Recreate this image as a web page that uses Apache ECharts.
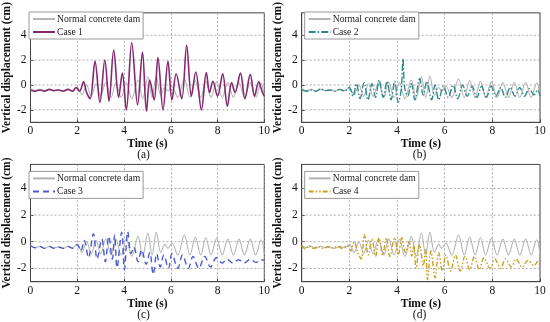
<!DOCTYPE html>
<html>
<head>
<meta charset="utf-8">
<script src="https://cdn.jsdelivr.net/npm/echarts@6/dist/echarts.min.js"></script>
<style>html,body{margin:0;padding:0;background:#fff}#c{width:550px;height:322px}</style>
</head>
<body>
<div id="c"></div>
<script>
// ---- data (time s, vertical displacement cm) ----
var normalDam = [[0,-0.3],[0.2,-0.45],[0.4,-0.35],[0.6,-0.5],[0.8,-0.35],[1.0,-0.45],[1.2,-0.4],[1.4,-0.5],[1.6,-0.35],[1.8,-0.45],[2.0,-0.2],[2.2,-0.8],[2.4,0.0],[2.6,-0.9],[2.8,0.1],[3.0,-0.9],[3.22,0.2],[3.45,-1.0],[3.65,0.2],[3.88,-1.0],[4.1,0.2],[4.33,-1.1],[4.6,0.4],[4.8,-1.1],[5.02,0.65],[5.2,-1.0],[5.38,0.72],[5.57,-0.8],[5.75,-0.2],[5.88,-0.5],[6.05,-0.1],[6.3,-1.0],[6.58,0.5],[6.82,-1.0],[7.05,0.35],[7.28,-1.0],[7.5,0.3],[7.72,-1.0],[7.96,0.25],[8.2,-1.0],[8.44,0.2],[8.68,-1.0],[8.92,0.2],[9.15,-1.0],[9.4,0.2],[9.63,-1.0],[9.86,0.15],[10,-0.9]];
var case1 = [[0,-0.4],[0.2,-0.5],[0.4,-0.4],[0.6,-0.5],[0.8,-0.35],[1.0,-0.45],[1.2,-0.4],[1.4,-0.5],[1.6,-0.35],[1.8,-0.5],[1.95,-0.2],[2.1,-0.5],[2.27,0.25],[2.4,-0.6],[2.55,-1.1],[2.76,1.9],[2.97,-1.4],[3.18,2.0],[3.36,-1.3],[3.56,2.8],[3.77,-1.0],[3.93,0.95],[4.1,-2.0],[4.33,3.4],[4.58,-1.6],[4.79,2.65],[4.96,-2.1],[5.1,0.4],[5.29,-1.2],[5.45,2.2],[5.67,-2.0],[5.88,1.9],[6.05,-1.2],[6.23,0.9],[6.47,-1.1],[6.68,3.2],[6.88,-0.9],[7.07,1.05],[7.31,-2.0],[7.52,1.0],[7.66,-0.6],[7.8,0.3],[8.0,-0.9],[8.22,0.9],[8.42,-1.7],[8.6,0.2],[8.75,-0.6],[8.98,0.95],[9.17,-1.1],[9.4,0.85],[9.58,-0.9],[9.76,0.25],[9.9,-0.5],[10,-0.9]];
var case2 = [[0,-0.4],[0.2,-0.5],[0.4,-0.4],[0.6,-0.5],[0.8,-0.3],[1.0,-0.45],[1.2,-0.4],[1.4,-0.5],[1.6,-0.35],[1.8,-0.5],[2.0,-0.2],[2.15,-0.9],[2.3,0.1],[2.45,-1.1],[2.62,0.2],[2.78,-1.2],[2.95,0.1],[3.1,-1.0],[3.25,0.4],[3.42,-1.0],[3.58,0.3],[3.75,-1.2],[3.9,0.3],[4.05,-1.4],[4.18,-0.3],[4.25,2.1],[4.32,-0.2],[4.45,-0.9],[4.6,0.1],[4.75,-1.2],[4.95,0.5],[5.1,-0.8],[5.25,0.3],[5.45,-1.2],[5.6,0.0],[5.75,-1.2],[5.95,-0.1],[6.15,-1.0],[6.35,0.0],[6.55,-1.1],[6.75,0.0],[6.95,-0.9],[7.15,-0.1],[7.35,-1.0],[7.55,-0.1],[7.75,-1.0],[7.95,-0.1],[8.15,-0.9],[8.35,-0.2],[8.55,-1.0],[8.75,-0.2],[8.95,-0.9],[9.15,-0.2],[9.35,-0.9],[9.55,-0.3],[9.75,-0.8],[9.9,-0.4],[10,-0.9]];
var case3 = [[0,-0.3],[0.2,-0.45],[0.4,-0.35],[0.6,-0.5],[0.8,-0.35],[1.0,-0.5],[1.2,-0.4],[1.4,-0.5],[1.6,-0.35],[1.8,-0.5],[2.0,-0.2],[2.15,-0.7],[2.3,0.1],[2.48,-1.2],[2.69,0.6],[2.85,-1.3],[3.05,0.2],[3.2,-1.5],[3.35,0.4],[3.5,-1.3],[3.6,0.5],[3.7,-1.95],[3.9,0.7],[4.02,-2.1],[4.16,0.75],[4.3,-0.9],[4.42,-0.4],[4.6,-1.5],[4.75,-0.6],[4.95,-1.7],[5.1,-0.8],[5.25,-2.45],[5.4,-0.9],[5.55,-1.9],[5.7,-1.0],[5.9,-2.0],[6.05,-0.9],[6.3,-2.0],[6.5,-1.0],[6.75,-2.0],[6.95,-1.1],[7.2,-2.0],[7.45,-1.1],[7.7,-1.9],[7.95,-1.2],[8.2,-1.6],[8.4,-1.3],[8.65,-1.6],[8.9,-1.35],[9.15,-1.6],[9.4,-1.3],[9.65,-1.55],[9.85,-1.35],[10,-1.4]];
var case4 = [[0,-0.3],[0.15,-0.55],[0.3,-0.3],[0.5,-0.5],[0.7,-0.35],[0.9,-0.5],[1.1,-0.35],[1.3,-0.5],[1.5,-0.35],[1.7,-0.5],[1.9,-0.3],[2.05,-0.7],[2.2,0.0],[2.35,-0.8],[2.5,-1.3],[2.63,0.55],[2.8,-1.0],[2.95,0.2],[3.1,-1.1],[3.25,0.3],[3.4,-1.0],[3.55,0.3],[3.7,-1.1],[3.9,0.3],[4.05,-1.0],[4.2,0.3],[4.35,-0.8],[4.5,0.0],[4.62,-1.1],[4.7,-0.3],[4.8,-2.0],[4.95,-0.2],[5.1,-1.8],[5.2,-0.6],[5.28,-2.85],[5.42,-0.7],[5.6,-2.7],[5.75,-0.8],[5.9,-2.2],[6.05,-1.0],[6.25,-2.2],[6.45,-1.0],[6.65,-2.2],[6.85,-1.1],[7.05,-2.1],[7.25,-1.1],[7.45,-2.1],[7.65,-1.2],[7.9,-2.0],[8.1,-1.3],[8.35,-2.0],[8.55,-1.3],[8.8,-1.9],[9.0,-1.3],[9.25,-1.9],[9.5,-1.4],[9.75,-1.8],[9.9,-1.5],[10,-1.8]];
var yTicks = [-2, 0, 2, 4];
var xRange = [0, 10];
var caseNames = ['Case 1', 'Case 2', 'Case 3', 'Case 4'];
var panelLabels = ['(a)', '(b)', '(c)', '(d)'];
var caseData = [case1, case2, case3, case4];

// ---- styling / layout ----
var FONT = '"Liberation Serif", "Times New Roman", Times, serif';
var caseColors = ['#84296f', '#2f8a8e', '#4a5ad6', '#c9a020'];
var caseDash = [[], [7, 2, 1.5, 2], [6, 4], [5, 2, 1.5, 2, 1.5, 2]];
var caseWidth = [1.6, 1.4, 1.4, 1.4];
var GRIDLINE = {color: '#999', type: [2, 2], width: 0.8};
var panels = [
  {left: 26, top: 5},
  {left: 301.7, top: 5},
  {left: 26, top: 164.4},
  {left: 301.7, top: 164.4}
];
var PW = 238.3, PH = 117.3;

var grids = [], xAxes = [], yAxes = [], series = [], legends = [], graphics = [];
panels.forEach(function (p, i) {
  grids.push({left: p.left, top: p.top, width: PW, height: PH, show: true,
    borderColor: '#444', borderWidth: 1, backgroundColor: '#fff'});
  xAxes.push({type: 'value', gridIndex: i, min: 0, max: 10, interval: 2,
    name: 'Time (s)', nameLocation: 'middle', nameGap: 13,
    nameTextStyle: {fontFamily: FONT, fontWeight: 'bold', fontSize: 11.5, color: '#111'},
    axisLine: {onZero: false, lineStyle: {color: '#444'}},
    axisTick: {inside: true, length: 3, lineStyle: {color: '#444'}},
    axisLabel: {fontFamily: FONT, fontSize: 11.5, color: '#111', margin: 3},
    splitLine: {show: true, lineStyle: GRIDLINE}
  });
  yAxes.push({type: 'value', gridIndex: i, min: -3, max: 5.8,
    name: 'Vertical displacement (cm)', nameLocation: 'middle', nameGap: 12.5,
    nameTextStyle: {fontFamily: FONT, fontWeight: 'bold', fontSize: 11.5, color: '#111'},
    axisLine: {lineStyle: {color: '#444'}},
    axisTick: {inside: true, length: 3, customValues: yTicks, lineStyle: {color: '#444'}},
    axisLabel: {fontFamily: FONT, fontSize: 11.5, color: '#111', margin: 4, customValues: yTicks},
    splitLine: {show: false}
  });
  // horizontal dashed grid lines at the y tick values
  yTicks.forEach(function (v) {
    series.push({type: 'line', xAxisIndex: i, yAxisIndex: i, silent: true,
      data: xRange.map(function (x) { return [x, v]; }), symbol: 'none', z: 1,
      lineStyle: GRIDLINE, tooltip: {show: false}});
  });
  series.push({name: 'Normal concrete dam', type: 'line', xAxisIndex: i, yAxisIndex: i,
    data: normalDam, smooth: 0.35, symbol: 'none', z: 3,
    lineStyle: {color: '#b4b4b4', width: 1.1},
    itemStyle: {color: '#b4b4b4'}
  });
  series.push({name: caseNames[i], type: 'line', xAxisIndex: i, yAxisIndex: i,
    data: caseData[i], smooth: 0.35, symbol: 'none', z: 4,
    lineStyle: {color: caseColors[i], width: caseWidth[i], type: caseDash[i].length ? caseDash[i] : 'solid'},
    itemStyle: {color: caseColors[i]}
  });
  legends.push({data: ['Normal concrete dam', caseNames[i]], orient: 'vertical',
    left: p.left + 3, top: p.top + 7, itemWidth: 22, itemHeight: 9, itemGap: 3,
    padding: [2, 3, 2, 3], backgroundColor: '#fff', borderColor: '#999', borderWidth: 1,
    borderRadius: 0, selectedMode: false, z: 10,
    textStyle: {fontFamily: FONT, fontSize: 9.6, color: '#222', padding: [0, 0, 0, -3]},
    itemStyle: {opacity: 0}
  });
  graphics.push({type: 'text', left: p.left + PW / 2 - 8, top: p.top + PH + 27,
    style: {text: panelLabels[i], font: '11.5px ' + FONT, fill: '#111'}});
});

var chart = echarts.init(document.getElementById('c'), null, {renderer: 'canvas'});
chart.setOption({
  animation: false,
  backgroundColor: '#fff',
  grid: grids, xAxis: xAxes, yAxis: yAxes, series: series, legend: legends,
  graphic: graphics
});
</script>
</body>
</html>
